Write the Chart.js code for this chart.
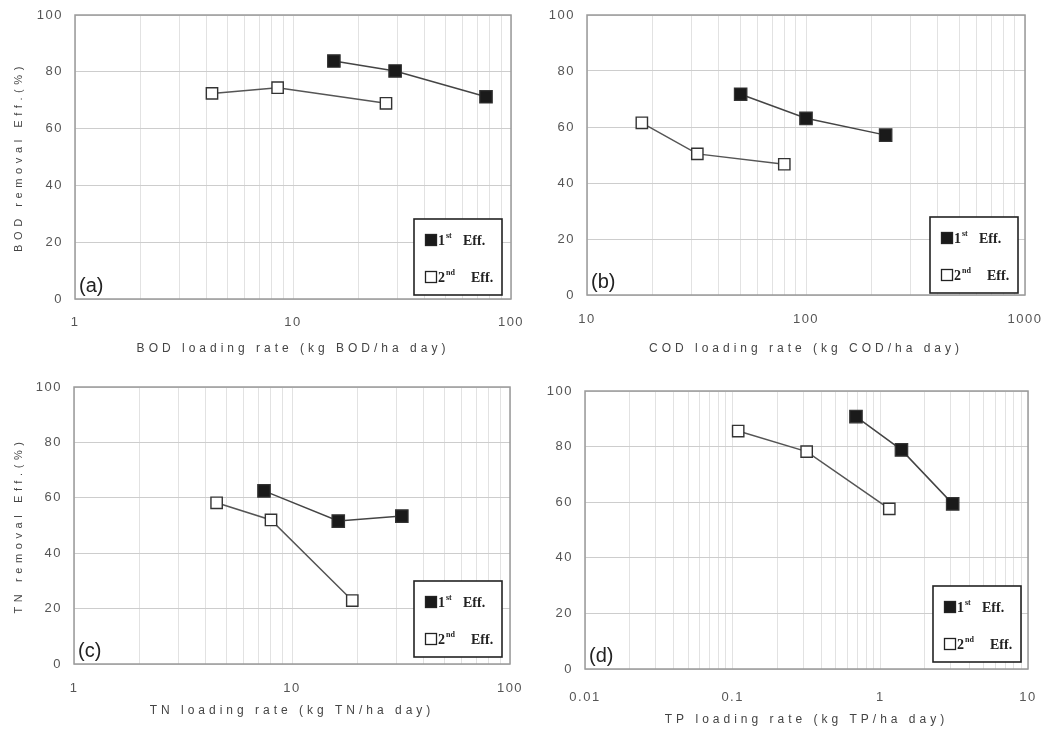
<!DOCTYPE html>
<html>
<head>
<meta charset="utf-8">
<script src="https://cdn.jsdelivr.net/npm/chart.js@4/dist/chart.umd.min.js"></script>
<style>
  body { margin: 0; background: #fff; }
  #wrap { position: relative; width: 1055px; height: 742px; }
  canvas { position: absolute; }
</style>
</head>
<body>
<div id="wrap">
  <canvas id="pa" width="527" height="370" style="left:0;top:0"></canvas>
  <canvas id="pb" width="528" height="370" style="left:527px;top:0"></canvas>
  <canvas id="pc" width="527" height="372" style="left:0;top:370px"></canvas>
  <canvas id="pd" width="528" height="372" style="left:527px;top:370px"></canvas>
</div>
<script>
// values
const aFirstX = [15.4, 29.4, 76.8];
const aFirstY = [83.8, 80.3, 71.2];
const aSecondX = [4.25, 8.5, 26.7];
const aSecondY = [72.4, 74.4, 68.9];

const bFirstX = [50.3, 100, 231];
const bFirstY = [71.7, 63.1, 57.1];
const bSecondX = [17.8, 31.9, 79.6];
const bSecondY = [61.5, 50.4, 46.7];

const cFirstX = [7.44, 16.3, 31.9];
const cFirstY = [62.5, 51.6, 53.4];
const cSecondX = [4.51, 8.01, 18.9];
const cSecondY = [58.2, 52.0, 22.9];

const dFirstX = [0.684, 1.39, 3.09];
const dFirstY = [90.8, 78.8, 59.4];
const dSecondX = [0.109, 0.317, 1.15];
const dSecondY = [85.6, 78.2, 57.6];

const yTicks = [0, 20, 40, 60, 80, 100];
const aDecades = [1, 10, 100];
const bDecades = [10, 100, 1000];
const cDecades = [1, 10, 100];
const dDecades = [0.01, 0.1, 1, 10];

const xTitles = ['BOD loading rate (kg BOD/ha day)', 'COD loading rate (kg COD/ha day)',
                 'TN loading rate (kg TN/ha day)', 'TP loading rate (kg TP/ha day)'];
const yTitles = ['BOD removal Eff.(%)', '', 'TN removal Eff.(%)', ''];
const panelTags = ['(a)', '(b)', '(c)', '(d)'];
const legendNums = [['1', 'st'], ['2', 'nd']];

function pts(xs, ys) {
  return xs.map((x, i) => ({x: x, y: ys[i]}));
}

// 1..9 per decade for the log grid
function logGrid(decades) {
  let out = [];
  decades.forEach((d, i) => {
    if (i === decades.length - 1) { out.push(d); return; }
    for (let k = 1; k < 10; k++) out.push(+(d * k).toPrecision(3));
  });
  return out;
}

const framePlugin = {
  id: 'frame',
  beforeDraw(chart) {
    chart.ctx.letterSpacing = '1.5px';
    Object.values(chart.scales).forEach(s => {
      if (s._wrapped) return;
      const orig = s.drawTitle;
      const sp = s.axis === 'x' ? '4px' : '4.6px';
      s.drawTitle = function () {
        const prev = this.ctx.letterSpacing;
        this.ctx.letterSpacing = sp;
        orig.call(this);
        this.ctx.letterSpacing = prev;
      };
      s._wrapped = true;
    });
  },
  afterDraw(chart, args, opts) {
    const ctx = chart.ctx;
    const a = chart.chartArea;
    ctx.save();
    ctx.letterSpacing = '0px';
    ctx.strokeStyle = '#9a9a9a';
    ctx.lineWidth = 1.5;
    ctx.strokeRect(a.left, a.top, a.right - a.left, a.bottom - a.top);

    // panel tag
    ctx.fillStyle = '#222';
    ctx.font = '20px "Liberation Sans", Arial, sans-serif';
    ctx.textAlign = 'left';
    ctx.textBaseline = 'bottom';
    ctx.fillText(opts.tag, a.left + 4, a.bottom - 3);

    // legend box
    const w = 88, h = 76;
    const bx = a.right - opts.lr - w, by = a.bottom - opts.lb - h;
    ctx.fillStyle = '#fff';
    ctx.fillRect(bx, by, w, h);
    ctx.strokeStyle = '#222';
    ctx.lineWidth = 1.6;
    ctx.strokeRect(bx, by, w, h);
    chart.data.datasets.forEach((ds, i) => {
      const cy = by + (i === 0 ? 21 : 58);
      const cx = bx + 17;
      ctx.fillStyle = ds.pointBackgroundColor;
      ctx.strokeStyle = '#222';
      ctx.lineWidth = 1.3;
      ctx.fillRect(cx - 5.5, cy - 5.5, 11, 11);
      ctx.strokeRect(cx - 5.5, cy - 5.5, 11, 11);
      ctx.fillStyle = '#222';
      ctx.textBaseline = 'middle';
      ctx.font = 'bold 14px "Liberation Serif", serif';
      ctx.fillText(legendNums[i][0], cx + 7, cy + 1);
      ctx.font = 'bold 8px "Liberation Serif", serif';
      ctx.fillText(legendNums[i][1], cx + 15, cy - 4);
      ctx.font = 'bold 14px "Liberation Serif", serif';
      ctx.fillText('Eff.', cx + (i === 0 ? 32 : 40), cy + 1);
    });
    ctx.restore();
  }
};

function makePanel(id, k, first, second, decades, lay) {
  const grid = logGrid(decades);
  new Chart(document.getElementById(id), {
    type: 'scatter',
    data: {
      datasets: [
        {label: '1st Eff.', data: first, showLine: true, borderColor: '#444', borderWidth: 1.5,
         pointStyle: 'rect', pointRadius: 8.8, pointBackgroundColor: '#1a1a1a',
         pointBorderColor: '#333', pointBorderWidth: 1.2},
        {label: '2nd Eff.', data: second, showLine: true, borderColor: '#555', borderWidth: 1.5,
         pointStyle: 'rect', pointRadius: 8, pointBackgroundColor: '#ffffff',
         pointBorderColor: '#333', pointBorderWidth: 1.4}
      ]
    },
    options: {
      responsive: false,
      animation: false,
      events: [],
      layout: {padding: {top: lay.top, right: lay.right, bottom: 0, left: 0}},
      plugins: {
        legend: {display: false},
        tooltip: {enabled: false},
        frame: {tag: panelTags[k], lr: lay.lr, lb: lay.lb}
      },
      scales: {
        x: {
          type: 'logarithmic',
          min: decades[0],
          max: decades[decades.length - 1],
          afterBuildTicks: s => { s.ticks = grid.map(v => ({value: v})); },
          afterFit: s => { s.height = lay.xh; s.paddingLeft = 0; s.paddingRight = 0; },
          grid: {color: '#e2e2e2', lineWidth: 1, drawTicks: false},
          border: {display: false},
          ticks: {
            autoSkip: false, maxRotation: 0, padding: lay.xpad, color: '#555',
            font: {family: '"Liberation Sans", Arial, sans-serif', size: 13},
            callback: v => decades.includes(v) ? String(v) : ''
          },
          title: {display: true, text: xTitles[k], color: '#444',
                  font: {family: '"Liberation Sans", Arial, sans-serif', size: 12},
                  padding: {top: lay.tpad, bottom: lay.tpad}}
        },
        y: {
          min: 0, max: 100,
          afterBuildTicks: s => { s.ticks = yTicks.map(v => ({value: v})); },
          afterFit: s => { s.width = lay.yw; s.paddingTop = 0; s.paddingBottom = 0; },
          grid: {color: '#cdcdcd', lineWidth: 1, drawTicks: false},
          border: {display: false},
          ticks: {padding: 12, color: '#555',
                  font: {family: '"Liberation Sans", Arial, sans-serif', size: 13}},
          title: {display: yTitles[k] !== '', text: yTitles[k], color: '#444',
                  font: {family: '"Liberation Sans", Arial, sans-serif', size: 11},
                  padding: {top: 12, bottom: 12}}
        }
      }
    },
    plugins: [framePlugin]
  });
}

makePanel('pa', 0, pts(aFirstX, aFirstY), pts(aSecondX, aSecondY), aDecades,
  {top: 15, right: 16, yw: 75, xh: 71, xpad: 16, tpad: 14, lr: 9, lb: 4});
makePanel('pb', 1, pts(bFirstX, bFirstY), pts(bSecondX, bSecondY), bDecades,
  {top: 15, right: 30, yw: 60, xh: 75, xpad: 17, tpad: 14, lr: 7, lb: 2});
makePanel('pc', 2, pts(cFirstX, cFirstY), pts(cSecondX, cSecondY), cDecades,
  {top: 17, right: 17, yw: 74, xh: 78, xpad: 17, tpad: 24, lr: 8, lb: 7});
makePanel('pd', 3, pts(dFirstX, dFirstY), pts(dSecondX, dSecondY), dDecades,
  {top: 21, right: 27, yw: 58, xh: 73, xpad: 21, tpad: 15, lr: 7, lb: 7});
</script>
</body>
</html>
